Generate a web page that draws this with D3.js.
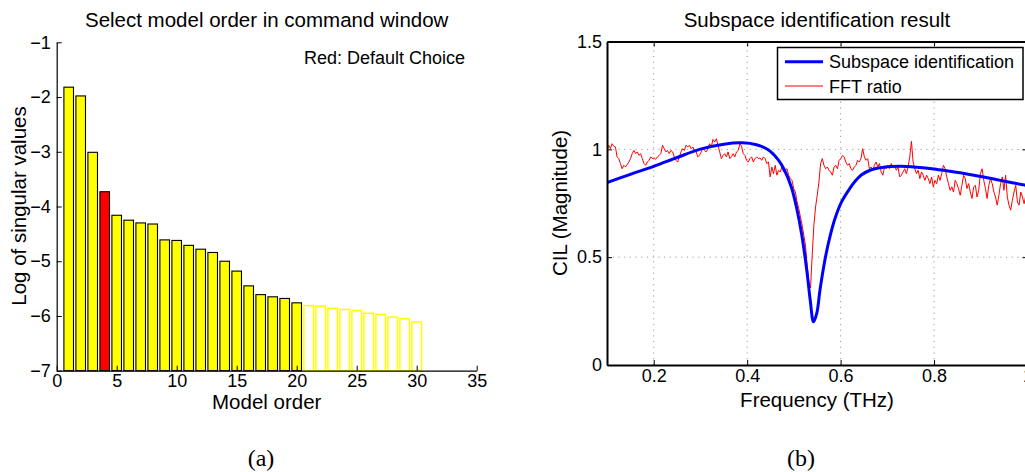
<!DOCTYPE html>
<html>
<head>
<meta charset="utf-8">
<script src="https://cdn.jsdelivr.net/npm/d3@7"></script>
<style>
  html, body { margin: 0; padding: 0; background: #fff; }
  svg { display: block; font-family: "Liberation Sans", Arial, Helvetica, sans-serif; }
</style>
</head>
<body>
<script>
// ---- Panel (a): singular values per model order ----
const modelOrders = d3.range(1, 31);
const logSingularValues = [
  -1.82, -1.98, -3.01, -3.73, -4.16, -4.25, -4.30, -4.32, -4.61, -4.62,
  -4.71, -4.78, -4.84, -5.00, -5.18, -5.45, -5.61, -5.65, -5.68, -5.76,
  -5.81, -5.82, -5.86, -5.88, -5.90, -5.95, -5.97, -6.02, -6.05, -6.11
];
const defaultOrder = 4;        // highlighted in red
const shownOrders = 20;        // orders beyond this are drawn hollow
const orderTicks = [0, 5, 10, 15, 20, 25, 30, 35];
const logTicks = [-7, -6, -5, -4, -3, -2, -1];

// ---- Panel (b): CIL magnitude vs frequency ----
// identified model response
const modelFreq = [0.10, 0.15, 0.20, 0.25, 0.30, 0.35, 0.39, 0.42, 0.445, 0.467,
  0.48, 0.495, 0.506, 0.517, 0.528, 0.535, 0.542, 0.549, 0.556, 0.567,
  0.578, 0.588, 0.602, 0.617, 0.631, 0.645, 0.663, 0.692, 0.727, 0.763,
  0.80, 0.834, 0.87, 0.906, 0.942, 0.99, 1.0];
const modelMag = [0.846, 0.884, 0.921, 0.962, 1.001, 1.024, 1.030, 1.021, 0.998, 0.950,
  0.903, 0.822, 0.727, 0.602, 0.432, 0.300, 0.200, 0.240, 0.350, 0.494,
  0.602, 0.679, 0.756, 0.810, 0.852, 0.882, 0.903, 0.917, 0.921, 0.917,
  0.909, 0.898, 0.886, 0.872, 0.856, 0.836, 0.832];

// measured FFT ratio, sampled every fftStep THz from fftStart
const fftStart = 0.1, fftStep = 0.0036;
const fftRatio = [
  0.995, 1.019, 1.003, 1.026, 1.015, 1.011, 0.965, 0.957, 0.934, 0.910,
  0.926, 0.918, 0.929, 0.941, 0.957, 0.980, 0.995, 0.980, 0.988, 0.972,
  0.980, 0.957, 0.934, 0.926, 0.941, 0.949, 0.965, 0.957, 0.960, 0.954,
  0.965, 0.972, 0.980, 1.019, 1.003, 0.988, 0.995, 0.980, 0.995, 0.988,
  0.965, 0.949, 0.941, 0.965, 0.988, 1.003, 0.995, 1.019, 1.011, 1.019,
  1.003, 1.011, 0.995, 0.988, 0.965, 0.972, 0.988, 1.003, 0.995, 0.988,
  1.003, 1.026, 1.011, 1.046, 1.034, 1.049, 1.019, 0.988, 0.957, 0.972,
  0.980, 0.965, 0.988, 0.957, 0.965, 0.980, 0.965, 0.988, 0.995, 1.026,
  1.015,
  0.980, 0.972, 0.949, 0.941, 0.957, 0.965, 0.941, 0.957, 0.965, 0.957,
  0.960, 0.949, 0.965, 0.957, 0.934, 0.941, 0.872, 0.918, 0.887, 0.926,
  0.880, 0.903, 0.895, 0.918, 0.895, 0.903, 0.910, 0.880, 0.864, 0.856,
  0.818, 0.802, 0.756, 0.725, 0.687, 0.648, 0.602, 0.556, 0.463, 0.385,
  0.357, 0.509, 0.648, 0.733, 0.787, 0.849, 0.934, 0.957, 0.926, 0.910,
  0.918, 0.903, 0.895, 0.880, 0.918, 0.926, 0.910, 0.949, 0.957, 0.972,
  0.965, 0.941, 0.926, 0.934, 0.910, 0.903, 0.918,
  0.926, 0.949, 0.941, 0.957, 1.003, 0.965, 0.949, 0.957, 0.910, 0.918,
  0.903, 0.926, 0.941, 0.918, 0.934, 0.895, 0.880, 0.918, 0.910, 0.926,
  0.910, 0.934, 0.918, 0.926, 0.903, 0.918, 0.872, 0.880, 0.895, 0.910,
  0.887, 0.918, 0.965, 1.037, 0.941, 0.910, 0.887, 0.903, 0.864, 0.895,
  0.880, 0.856, 0.880, 0.864, 0.841, 0.872, 0.826, 0.856, 0.841, 0.880,
  0.856, 0.887, 0.926, 0.910, 0.872, 0.841, 0.810, 0.826, 0.802, 0.856,
  0.841, 0.818, 0.787, 0.833, 0.880, 0.864, 0.818, 0.841, 0.802, 0.772,
  0.826, 0.833, 0.779, 0.810, 0.887, 0.910, 0.856, 0.818, 0.772, 0.833,
  0.864, 0.841, 0.802, 0.779, 0.741, 0.787, 0.841, 0.872, 0.810, 0.880,
  0.779, 0.741, 0.718, 0.764, 0.802, 0.833, 0.756, 0.741, 0.802, 0.779,
  0.748, 0.787, 0.770
];
const freqTicks = [0.2, 0.4, 0.6, 0.8, 1.0];
const magTicks = [0, 0.5, 1, 1.5];

const svg = d3.select("body").append("svg")
  .attr("width", 1025).attr("height", 472);

// ================= Panel (a) =================
const xL = d3.scaleLinear().domain([0, 35]).range([56.7, 476.7]);
const yL = d3.scaleLinear().domain([-7, -1]).range([370.7, 42.3]);
const barW = xL(0.8) - xL(0);
const gA = svg.append("g");

const bars = modelOrders.map((o, i) => ({ order: o, value: logSingularValues[i] }));
gA.selectAll("rect.bar").data(bars).enter().append("rect")
  .attr("class", "bar")
  .attr("x", d => xL(d.order) - barW / 2)
  .attr("width", barW)
  .attr("y", d => yL(d.value))
  .attr("height", d => yL(-7) - yL(d.value))
  .attr("fill", d => d.order > shownOrders ? "none" : (d.order === defaultOrder ? "#ff0000" : "#ffff00"))
  .attr("stroke", d => d.order > shownOrders ? "#ffff00" : "#000")
  .attr("stroke-width", d => d.order > shownOrders ? 1.5 : 1.1);

const axLeftA = gA.append("g")
  .attr("transform", `translate(${xL(0)},0)`)
  .call(d3.axisLeft(yL).tickValues(logTicks).tickFormat(d3.format("d"))
    .tickSizeInner(-5).tickSizeOuter(0).tickPadding(6));
const axBotA = gA.append("g")
  .attr("transform", `translate(0,${yL(-7)})`)
  .call(d3.axisBottom(xL).tickValues(orderTicks).tickSizeInner(-5).tickSizeOuter(0).tickPadding(4));
[axLeftA, axBotA].forEach(a => {
  a.select(".domain").attr("stroke", "#000").attr("stroke-width", 1.2);
  a.selectAll(".tick line").attr("stroke", "#000");
  a.selectAll("text").attr("fill", "#000").style("font-size", "18px").style("font-family", "Liberation Sans, Arial, sans-serif");
});

gA.append("text").attr("x", 266.7).attr("y", 27).attr("text-anchor", "middle")
  .style("font-size", "20.5px").text("Select model order in command window");
gA.append("text").attr("x", 304).attr("y", 64)
  .style("font-size", "18px").text("Red: Default Choice");
gA.append("text").attr("x", 266.7).attr("y", 409).attr("text-anchor", "middle")
  .style("font-size", "20.5px").text("Model order");
gA.append("text").attr("transform", `translate(26,206) rotate(-90)`).attr("text-anchor", "middle")
  .style("font-size", "20.5px").text("Log of singular values");

// ================= Panel (b) =================
const xR = d3.scaleLinear().domain([0.1, 1.0]).range([607, 1027.5]);
const yR = d3.scaleLinear().domain([0, 1.5]).range([365, 41.5]);
const gB = svg.append("g");

gB.append("defs").append("clipPath").attr("id", "plotClip")
  .append("rect").attr("x", xR(0.1)).attr("y", yR(1.5))
  .attr("width", xR(1.0) - xR(0.1)).attr("height", yR(0) - yR(1.5));

// dotted grid
const grid = gB.append("g").attr("stroke", "#9a9a9a").attr("stroke-width", 1).attr("stroke-dasharray", "1.2,4.5");
grid.selectAll("line.v").data(freqTicks).enter().append("line")
  .attr("x1", d => xR(d)).attr("x2", d => xR(d)).attr("y1", yR(0)).attr("y2", yR(1.5));
grid.selectAll("line.h").data(magTicks.filter(d => d > 0 && d < 1.5)).enter().append("line")
  .attr("x1", xR(0.1)).attr("x2", xR(1.0)).attr("y1", d => yR(d)).attr("y2", d => yR(d));

const plot = gB.append("g").attr("clip-path", "url(#plotClip)");
const fftPts = fftRatio.map((v, i) => [fftStart + i * fftStep, v]);
plot.append("path").datum(fftPts)
  .attr("fill", "none").attr("stroke", "#ff0000").attr("stroke-width", 1)
  .attr("d", d3.line().x(d => xR(d[0])).y(d => yR(d[1])));
const modelPts = modelFreq.map((f, i) => [f, modelMag[i]]);
plot.append("path").datum(modelPts)
  .attr("fill", "none").attr("stroke", "#0000ff").attr("stroke-width", 3)
  .attr("d", d3.line().curve(d3.curveCatmullRom.alpha(0.5)).x(d => xR(d[0])).y(d => yR(d[1])));

// axes box
const fmtMag = d => String(d);
const fmtFreq = d => d === 1 ? "1" : d.toFixed(1);
const axL = gB.append("g").attr("transform", `translate(${xR(0.1)},0)`)
  .call(d3.axisLeft(yR).tickValues(magTicks).tickFormat(fmtMag).tickSizeInner(-5).tickSizeOuter(0).tickPadding(5));
const axB = gB.append("g").attr("transform", `translate(0,${yR(0)})`)
  .call(d3.axisBottom(xR).tickValues(freqTicks).tickFormat(fmtFreq).tickSizeInner(-5).tickSizeOuter(0).tickPadding(4));
const axT = gB.append("g").attr("transform", `translate(0,${yR(1.5)})`)
  .call(d3.axisTop(xR).tickValues(freqTicks).tickFormat("").tickSizeInner(-5).tickSizeOuter(0));
const axR = gB.append("g").attr("transform", `translate(${xR(1.0)},0)`)
  .call(d3.axisRight(yR).tickValues(magTicks).tickFormat("").tickSizeInner(-5).tickSizeOuter(0));
[axL, axB, axT, axR].forEach(a => {
  a.select(".domain").attr("stroke", "#000").attr("stroke-width", 2);
  a.selectAll(".tick line").attr("stroke", "#000");
  a.selectAll("text").attr("fill", "#000").style("font-size", "18px").style("font-family", "Liberation Sans, Arial, sans-serif");
});

gB.append("text").attr("x", 817).attr("y", 27).attr("text-anchor", "middle")
  .style("font-size", "20.5px").text("Subspace identification result");
gB.append("text").attr("x", 817).attr("y", 407).attr("text-anchor", "middle")
  .style("font-size", "20.5px").text("Frequency (THz)");
gB.append("text").attr("transform", `translate(567,203) rotate(-90)`).attr("text-anchor", "middle")
  .style("font-size", "20.5px").text("CIL (Magnitude)");

// legend
const leg = gB.append("g");
leg.append("rect").attr("x", 777.5).attr("y", 47.5).attr("width", 245.5).attr("height", 52)
  .attr("fill", "#fff").attr("stroke", "#000").attr("stroke-width", 1.5);
const legendItems = [
  { label: "Subspace identification", color: "#0000ff", width: 3 },
  { label: "FFT ratio", color: "#ff0000", width: 1 }
];
legendItems.forEach((it, i) => {
  const cy = 61.7 + i * 24.3;
  leg.append("line").attr("x1", 785).attr("x2", 823).attr("y1", cy).attr("y2", cy)
    .attr("stroke", it.color).attr("stroke-width", it.width);
  leg.append("text").attr("x", 829).attr("y", cy + 6.5).style("font-size", "18px").text(it.label);
});

// panel captions
svg.append("text").attr("x", 261).attr("y", 466).attr("text-anchor", "middle")
  .style("font-family", "Liberation Serif, 'DejaVu Serif', serif").style("font-size", "24px").text("(a)");
svg.append("text").attr("x", 801).attr("y", 466).attr("text-anchor", "middle")
  .style("font-family", "Liberation Serif, 'DejaVu Serif', serif").style("font-size", "24px").text("(b)");
</script>
</body>
</html>
